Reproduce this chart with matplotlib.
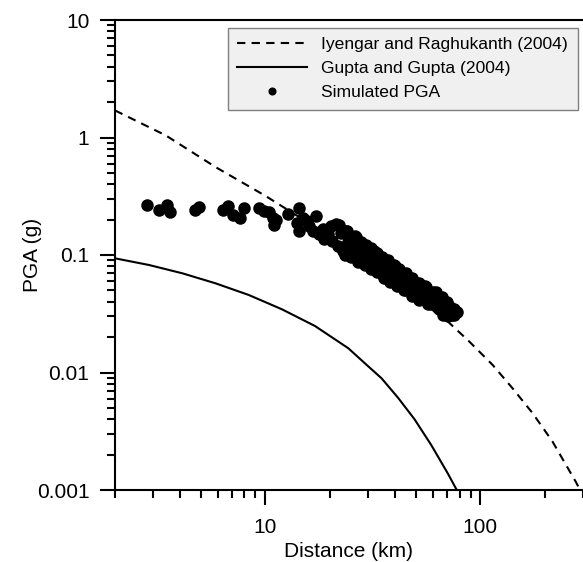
import numpy as np
import matplotlib.pyplot as plt
from matplotlib.ticker import LogLocator, NullFormatter

plt.rcParams['font.family'] = ['Liberation Sans', 'DejaVu Sans']

# Iyengar and Raghukanth (2004) curve
ir_dist = [2.0, 3.45, 5.9, 10, 17.2, 25, 35, 50, 69.3, 88.9, 114, 141, 175, 216, 278, 295]
ir_pga = [1.70, 1.04, 0.557, 0.319, 0.171, 0.112, 0.072, 0.044, 0.028, 0.0183,
          0.0116, 0.00735, 0.0045, 0.0026, 0.00117, 0.00095]

# Gupta and Gupta (2004) curve
gg_dist = [2.0, 2.88, 4.12, 5.87, 8.37, 11.95, 17.0, 24.3, 29.0, 34.7, 41.4, 49.4,
           59.2, 70.6, 77.2]
gg_pga = [0.0937, 0.0822, 0.0698, 0.0574, 0.0457, 0.0345, 0.0249, 0.0161, 0.0120,
          0.00893, 0.0061, 0.0040, 0.0024, 0.00138, 0.00102]

# simulated PGA points
sim_dist = [2.81, 3.21, 3.48, 3.60, 4.71, 4.93, 6.33, 6.68, 7.05, 7.65, 7.99,
            9.38, 9.9, 10.4, 10.8, 11.0, 11.2, 12.8, 14.3, 14.1, 14.4, 14.9,
            15.7, 16.6, 17.2, 18.5, 18.8, 20.2, 21.3, 22.1, 23.7, 20.5, 21.7, 22.9,
            16.0, 19.5, 17.8,
            24.2, 24.2, 24.2, 24.8, 24.8, 25.5, 25.5, 25.5, 26.3, 26.3, 26.3,
            27.0, 27.0, 27.0, 27.8, 27.8, 27.8, 28.5, 28.5, 28.5, 29.2, 29.2, 29.2,
            30.0, 30.0, 30.0, 30.8, 30.8, 30.8, 31.6, 31.6, 31.6, 32.5, 32.5, 32.5,
            33.4, 33.4, 33.4, 34.3, 34.3, 34.3, 35.2, 35.2, 35.2, 36.2, 36.2, 36.2,
            37.3, 37.3, 37.3, 38.5, 38.5, 38.5, 39.8, 39.8, 39.8, 41.2, 41.2, 41.2,
            42.7, 42.7, 42.7, 44.3, 44.3, 44.3, 46.0, 46.0, 46.0, 47.8, 47.8, 47.8,
            49.7, 49.7, 49.7, 51.8, 51.8, 51.8, 54.0, 54.0, 54.0, 56.3, 56.3, 56.3,
            58.8, 58.8, 58.8, 61.4, 61.4, 64.0, 64.0, 64.0, 66.8, 66.8,
            69.5, 69.5, 69.5, 72.3, 72.3, 75.0, 75.0, 77.8,
            26.0, 32.0, 40.0, 55.0, 60.0, 45.0, 67.0, 71.0, 62.5,
            22.5, 24.0, 26.5, 28.0, 29.5, 31.0, 33.0, 35.0, 37.0, 39.5, 42.0, 45.0,
            48.0, 52.0, 56.0, 62.0, 66.0, 70.0,
            23.5, 25.0, 27.0, 29.0, 31.0, 33.0, 35.5, 38.0, 41.0, 44.0, 48.0, 52.0,
            57.0, 63.0, 68.0, 74.0]
sim_pga = [0.266, 0.243, 0.266, 0.234, 0.243, 0.257, 0.243, 0.261, 0.220, 0.208, 0.250,
           0.250, 0.238, 0.230, 0.208, 0.180, 0.198, 0.225, 0.250, 0.189, 0.160, 0.208,
           0.195, 0.160, 0.216, 0.166, 0.136, 0.177, 0.185, 0.180, 0.160, 0.131, 0.119, 0.108,
           0.175, 0.150, 0.150,
           0.148, 0.128, 0.114, 0.140, 0.122, 0.135, 0.117, 0.104, 0.128, 0.112, 0.099,
           0.124, 0.108, 0.096, 0.118, 0.104, 0.092, 0.114, 0.100, 0.089, 0.110, 0.097, 0.086,
           0.108, 0.094, 0.084, 0.104, 0.091, 0.081, 0.100, 0.088, 0.079, 0.096, 0.085, 0.076,
           0.093, 0.082, 0.073, 0.090, 0.079, 0.071, 0.087, 0.077, 0.068, 0.084, 0.074, 0.066,
           0.081, 0.071, 0.064, 0.077, 0.068, 0.062, 0.074, 0.066, 0.059, 0.071, 0.063, 0.057,
           0.068, 0.061, 0.055, 0.065, 0.058, 0.053, 0.062, 0.056, 0.051, 0.059, 0.053, 0.048,
           0.056, 0.050, 0.046, 0.053, 0.048, 0.044, 0.051, 0.045, 0.042, 0.048, 0.043, 0.040,
           0.046, 0.041, 0.038, 0.044, 0.039, 0.042, 0.037, 0.035, 0.040, 0.036,
           0.038, 0.034, 0.032, 0.036, 0.033, 0.035, 0.031, 0.033,
           0.145, 0.108, 0.080, 0.055, 0.048, 0.050, 0.031, 0.030, 0.046,
           0.155, 0.160, 0.142, 0.130, 0.122, 0.115, 0.104, 0.096, 0.090, 0.082, 0.076, 0.070,
           0.064, 0.058, 0.053, 0.048, 0.044, 0.040,
           0.100, 0.096, 0.088, 0.082, 0.076, 0.071, 0.064, 0.059, 0.054, 0.050, 0.045, 0.041,
           0.038, 0.036, 0.033, 0.031]

fig = plt.figure(figsize=(5.83, 5.62), dpi=100)
ax = fig.add_axes([115 / 583, 72 / 562, 468 / 583, 470 / 562])
ax.set_xscale('log')
ax.set_yscale('log')

ax.plot(ir_dist, ir_pga, color='k', ls=(0, (4, 3)), lw=1.5,
        label='Iyengar and Raghukanth (2004)')
ax.plot(gg_dist, gg_pga, color='k', ls='-', lw=1.5, label='Gupta and Gupta (2004)')
ax.plot(sim_dist, sim_pga, 'o', color='k', ms=8, ls='none', label='Simulated PGA')

ax.set_xlim(2, 300)
ax.set_ylim(0.001, 10)
ax.set_xticks([10, 100])
ax.set_xticklabels(['10', '100'])
ax.set_yticks([0.001, 0.01, 0.1, 1, 10])
ax.set_yticklabels(['0.001', '0.01', '0.1', '1', '10'])
ax.xaxis.set_minor_locator(LogLocator(subs=range(2, 10)))
ax.yaxis.set_minor_locator(LogLocator(subs=range(2, 10)))
ax.xaxis.set_minor_formatter(NullFormatter())
ax.yaxis.set_minor_formatter(NullFormatter())

ax.tick_params(which='major', length=11, width=1.5, labelsize=15)
ax.tick_params(which='minor', length=6, width=1.5)
ax.tick_params(axis='x', which='major', pad=9)
ax.tick_params(axis='y', which='major', pad=7.5)
for side in ['left', 'bottom', 'top']:
    ax.spines[side].set_linewidth(1.5)
ax.spines['right'].set_visible(False)

ax.set_xlabel('Distance (km)', fontsize=15, labelpad=4)
ax.set_ylabel('PGA (g)', fontsize=15, labelpad=-4)

ax.legend(loc='upper right', bbox_to_anchor=(0.989, 0.984), fontsize=12.6,
          fancybox=False, edgecolor='#808080', facecolor='#f0f0f0', framealpha=1,
          handlelength=4.0, labelspacing=0.5, borderaxespad=0, markerscale=0.6,
          handletextpad=0.8, borderpad=0.55)

fig.savefig('out.png', dpi=100)
